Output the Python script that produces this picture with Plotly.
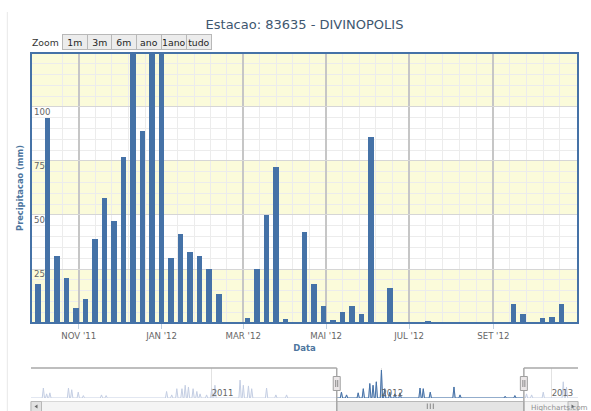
import plotly.graph_objects as go
import pandas as pd

# ---------------- data ----------------
title_text = "Estacao: 83635 - DIVINOPOLIS"
week_start = "2011-10-02"
precip_weekly = [18, 95, 31, 21, 7, 11, 39, 58, 47, 77,
                 160, 89, 190, 150, 30, 41, 33, 31, 25, 13.5,
                 0, 0, 2.5, 25, 50, 72, 2, 0, 42, 18,
                 8, 1.5, 5, 8, 4, 86, 0, 16, 0, 0,
                 0, 1, 0, 0, 0, 0, 0, 0, 0, 0,
                 9, 4, 0, 2.5, 3, 9]
x_tick_dates = ["2011-11-01", "2012-01-01", "2012-03-01", "2012-05-01", "2012-07-01", "2012-09-01"]
x_tick_labels = ["NOV '11", "JAN '12", "MAR '12", "MAI '12", "JUL '12", "SET '12"]
zoom_buttons = ["1m", "3m", "6m", "ano", "1ano", "tudo"]
nav_year_ticks = ["2011-01-01", "2012-01-01", "2013-01-01"]
nav_year_labels = ["2011", "2012", "2013"]
nav_dates = ["2010-01-04", "2010-01-11", "2010-01-18", "2010-02-27", "2010-03-06", "2010-03-20",
             "2010-03-31", "2010-05-09", "2010-05-19", "2010-09-26", "2010-10-07", "2010-10-18",
             "2010-10-29", "2010-11-05", "2010-11-12", "2010-11-22", "2010-11-30", "2010-12-07",
             "2010-12-21", "2011-01-01", "2011-01-08", "2011-03-03", "2011-03-10", "2011-03-21",
             "2011-03-28", "2011-04-29", "2011-05-19", "2011-06-11", "2011-10-07", "2011-10-18",
             "2011-11-12", "2011-11-23", "2011-12-07", "2011-12-14", "2011-12-21", "2012-01-01",
             "2012-01-08", "2012-01-19", "2012-01-30", "2012-02-10", "2012-03-24", "2012-03-31",
             "2012-04-15", "2012-06-05", "2012-06-18", "2012-09-23", "2012-10-14", "2012-11-08",
             "2012-11-19", "2012-12-14", "2013-01-26", "2013-02-02"]
nav_values = [29, 12, 15, 29, 24, 17,
              7, 9, 7, 19, 9, 27,
              27, 37, 32, 27, 19, 12,
              9, 27, 37, 52, 37, 35,
              27, 29, 9, 9, 17, 9,
              15, 27, 42, 37, 47, 81,
              27, 17, 12, 15, 29, 27,
              17, 32, 9, 5, 7, 12,
              9, 17, 47, 32]
bands = [(0, 25), (50, 75), (100, 125)]

main_range = ["2011-09-26 21:00", "2012-11-02 07:00"]
nav_range = ["2009-12-08 10:00", "2013-02-26 17:00"]

# ---------------- geometry helpers ----------------
W, H, L, R, T, B = 591, 411, 31, 13, 53, 0


def fx(px):
    return (px - L) / (W - L - R)


def fy(py):
    return (H - B - py) / (H - T - B)


week_dates = pd.date_range(week_start, periods=len(precip_weekly), freq="7D")
DAY = 86400000

# navigator series: narrow spikes from the read values
pts = []
for d, v in zip(nav_dates, nav_values):
    t = pd.Timestamp(d)
    pts += [(t - pd.Timedelta(hours=60), 0), (t, v), (t + pd.Timedelta(hours=60), 0)]
pts = [(pd.Timestamp(nav_range[0]), 0)] + sorted(pts) + [(pd.Timestamp(nav_range[1]), 0)]
nav_x = [p[0] for p in pts]
nav_y = [p[1] for p in pts]
ms, me = pd.Timestamp(main_range[0]), pd.Timestamp(main_range[1])
sel = [(ms, 0)] + [p for p in pts if ms < p[0] < me] + [(me, 0)]
sel_x = [p[0] for p in sel]
sel_y = [p[1] for p in sel]

# minor grid (5 per major interval, like Highcharts)
majors = pd.date_range("2011-09-01", "2012-11-01", freq="2MS")
minor_vals = []
for a, b in zip(majors[:-1], majors[1:]):
    for k in range(1, 5):
        minor_vals.append(a + (b - a) * k / 5)

FONT = "DejaVu Sans"
BLUE = "#4572A7"

fig = go.Figure()
fig.add_bar(x=week_dates, y=precip_weekly, width=4.05 * DAY,
            marker=dict(color=BLUE, line=dict(width=0)), xaxis="x", yaxis="y",
            hoverinfo="x+y")
fig.add_scatter(x=nav_x, y=nav_y, mode="lines", line=dict(color="#C4CEE3", width=1),
                fill="tozeroy", fillcolor="rgba(69,114,167,0.05)",
                xaxis="x2", yaxis="y2", hoverinfo="skip")
fig.add_scatter(x=sel_x, y=sel_y, mode="lines", line=dict(color=BLUE, width=1),
                fill="tozeroy", fillcolor="rgba(69,114,167,0.13)",
                xaxis="x2", yaxis="y2", hoverinfo="skip")

shapes = []
for a, b in bands:
    shapes.append(dict(type="rect", xref="x domain", yref="y", x0=0, x1=1, y0=a, y1=b,
                       fillcolor="#FBFBDA", line=dict(width=0), layer="below"))
shapes.append(dict(type="rect", xref="x domain", yref="y domain", x0=0, x1=1, y0=0, y1=1,
                   line=dict(color=BLUE, width=2), layer="above"))
# page edge
shapes.append(dict(type="line", xref="paper", yref="paper", x0=fx(7.3), x1=fx(7.3),
                   y0=fy(12), y1=fy(415), line=dict(color="#E8E8E8", width=1)))
# scrollbar
shapes.append(dict(type="rect", xref="paper", yref="paper", x0=fx(31), x1=fx(578),
                   y0=fy(416), y1=fy(401.5), fillcolor="#F4F4F4",
                   line=dict(color="#D8D8D8", width=1), layer="above"))
shapes.append(dict(type="rect", xref="x2", yref="paper", x0=main_range[0], x1=main_range[1],
                   y0=fy(416), y1=fy(401.5), fillcolor="#E4E4E4",
                   line=dict(color="#B8B8B8", width=1), layer="above"))
mid = ms + (me - ms) / 2
for off in (-3, 0, 3):
    shapes.append(dict(type="line", xref="x2", xsizemode="pixel", xanchor=mid, x0=off, x1=off,
                       yref="paper", y0=fy(409), y1=fy(403.5),
                       line=dict(color="#888888", width=1), layer="above"))
for bx0, bx1 in [(31, 41.5), (568, 578)]:
    shapes.append(dict(type="rect", xref="paper", yref="paper", x0=fx(bx0), x1=fx(bx1),
                       y0=fy(416), y1=fy(401.5), fillcolor="#E2E2E2",
                       line=dict(color="#B8B8B8", width=1), layer="above"))
shapes.append(dict(type="path", xref="paper", yref="paper",
                   path=f"M {fx(34.5)} {fy(406.5)} L {fx(37.5)} {fy(404.5)} L {fx(37.5)} {fy(408.5)} Z",
                   fillcolor="#666666", line=dict(width=0), layer="above"))
shapes.append(dict(type="path", xref="paper", yref="paper",
                   path=f"M {fx(574.5)} {fy(406.5)} L {fx(571.5)} {fy(404.5)} L {fx(571.5)} {fy(408.5)} Z",
                   fillcolor="#666666", line=dict(width=0), layer="above"))
# navigator outline
OUT = "#A8A8A8"
shapes.append(dict(type="line", xref="x2", yref="paper", x0=nav_range[0], x1=main_range[0],
                   y0=fy(368), y1=fy(368), line=dict(color=OUT, width=1.5), layer="above"))
shapes.append(dict(type="line", xref="x2", yref="paper", x0=main_range[1], x1=nav_range[1],
                   y0=fy(368), y1=fy(368), line=dict(color=OUT, width=1.5), layer="above"))
for xx in main_range:
    shapes.append(dict(type="line", xref="x2", yref="paper", x0=xx, x1=xx,
                       y0=fy(368), y1=fy(416), line=dict(color=OUT, width=1.5), layer="above"))
    shapes.append(dict(type="rect", xref="x2", xsizemode="pixel", xanchor=xx, x0=-3.5, x1=3.5,
                       yref="paper", y0=fy(390.5), y1=fy(376.5), fillcolor="#EBE7E8",
                       line=dict(color="#A0A0A0", width=1), layer="above"))
    for off in (-1, 1):
        shapes.append(dict(type="line", xref="x2", xsizemode="pixel", xanchor=xx, x0=off, x1=off,
                           yref="paper", y0=fy(387), y1=fy(380),
                           line=dict(color="#888888", width=1), layer="above"))

annotations = [dict(text="Zoom", xref="paper", yref="paper", x=fx(30), y=fy(42.5),
                    xanchor="left", yanchor="middle", showarrow=False,
                    font=dict(family=FONT, size=9.3, color="#333333"))]
bw = 24.7
for i, lab in enumerate(zoom_buttons):
    cx = 62.7 + bw * (i + 0.5)
    annotations.append(dict(text=lab, xref="paper", yref="paper", x=fx(cx), y=fy(41.8),
                            xanchor="center", yanchor="middle", showarrow=False,
                            width=bw - 2, height=13, borderpad=0.5, borderwidth=1,
                            bgcolor="#ECECEC", bordercolor="#B8B8B8",
                            font=dict(family=FONT, size=9.3, color="#222222")))
annotations.append(dict(text="Highcharts.com", xref="paper", yref="paper", x=fx(590), y=fy(401),
                        xanchor="right", yanchor="top", showarrow=False,
                        font=dict(family=FONT, size=7.2, color="#909090")))

fig.update_layout(
    width=W, height=H, autosize=False,
    margin=dict(l=L, r=R, t=T, b=B, pad=0),
    paper_bgcolor="white", plot_bgcolor="white", showlegend=False,
    font=dict(family=FONT),
    bargap=0,
    title=dict(text=title_text, xref="paper", x=0.5, xanchor="center",
               yref="container", y=1 - 24 / H, yanchor="middle",
               font=dict(family=FONT, size=13, color="#3E576F")),
    xaxis=dict(type="date", domain=[0, 1], anchor="y", range=main_range,
               tickmode="array", tickvals=x_tick_dates, ticktext=x_tick_labels,
               ticks="outside", ticklen=5, tickwidth=1, tickcolor="#C0D0E0",
               tickfont=dict(family=FONT, size=8.6, color="#666666"),
               showgrid=True, gridcolor="#C6C6C6", gridwidth=1.5,
               minor=dict(tickmode="array", tickvals=minor_vals, showgrid=True,
                          gridcolor="#ECECEC", gridwidth=1, ticks=""),
               zeroline=False, showline=False, automargin=False,
               rangeslider=dict(visible=False),
               title=dict(text="Data", standoff=4,
                          font=dict(family=FONT, size=8.5, color="#4D759E", weight="bold"))),
    yaxis=dict(domain=[fy(323), 1], anchor="x", range=[0, 124.99],
               tickmode="linear", tick0=0, dtick=25,
               ticklabelposition="inside", ticklabelshift=5,
               tickfont=dict(family=FONT, size=8.6, color="#666666"),
               showgrid=True, gridcolor="#D6D6D6", gridwidth=1,
               minor=dict(dtick=5, showgrid=True, gridcolor="#ECECEC", gridwidth=1),
               zeroline=False, showline=False, automargin=False,
               title=dict(text="Precipitacao (mm)", standoff=9,
                          font=dict(family=FONT, size=8.3, color="#4D759E", weight="bold"))),
    xaxis2=dict(type="date", domain=[0, 1], anchor="y2", range=nav_range,
                tickmode="array", tickvals=nav_year_ticks, ticktext=nav_year_labels,
                ticklabelposition="inside right", ticklabelstandoff=-6, ticks="",
                tickfont=dict(family=FONT, size=8.5, color="#666666"),
                showgrid=True, gridcolor="#E2E2E2", gridwidth=1,
                zeroline=False, showline=False, automargin=False),
    yaxis2=dict(domain=[fy(398), fy(368)], anchor="x2", range=[0, 87],
                showgrid=False, showticklabels=False, zeroline=False, showline=False,
                ticks="", automargin=False),
    shapes=shapes,
    annotations=annotations,
)

fig.write_html("out.html", config={"displayModeBar": False},
               post_script="document.body.style.margin='0px';document.body.style.overflow='hidden';")
